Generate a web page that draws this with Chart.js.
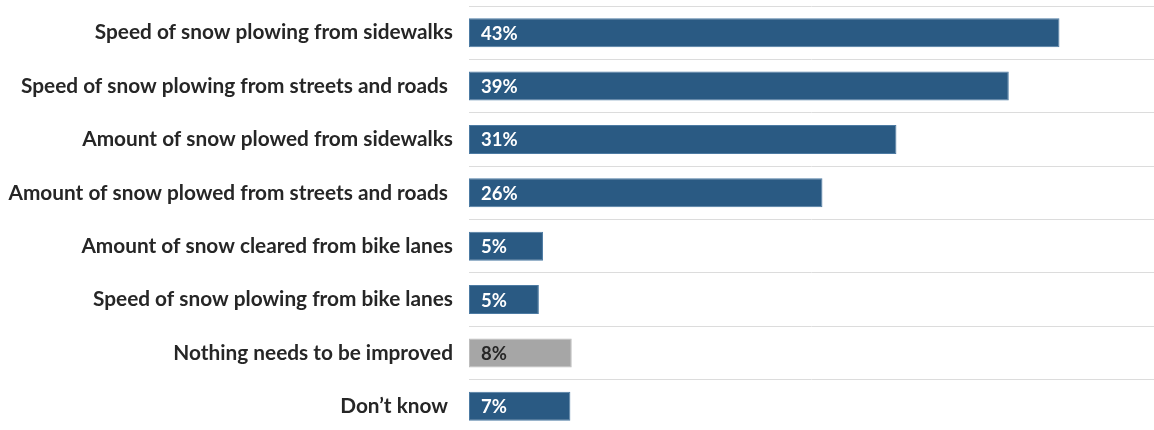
<!DOCTYPE html>
<html>
<head>
<meta charset="utf-8">
<script src="https://cdn.jsdelivr.net/npm/chart.js@4"></script>
<style>
  html, body { margin: 0; padding: 0; background: #fff; overflow: hidden; }
  .chart-container { position: relative; width: 1154px; height: 433px; }
</style>
</head>
<body>
<div class="chart-container">
  <canvas id="chart"></canvas>
</div>
<script>
// Categories (trailing spaces kept, the original labels sit a little left)
const categories = [
  'Speed of snow plowing from sidewalks',
  'Speed of snow plowing from streets and roads ',
  'Amount of snow plowed from sidewalks',
  'Amount of snow plowed from streets and roads ',
  'Amount of snow cleared from bike lanes',
  'Speed of snow plowing from bike lanes',
  'Nothing needs to be improved',
  'Don\u2019t know '
];

// Bar lengths (percent)
const values = [43.1, 39.4, 31.2, 25.8, 5.4, 5.1, 7.5, 7.4];

// Text printed inside the bars
const valueLabels = ['43%', '39%', '31%', '26%', '5%', '5%', '8%', '7%'];

const blue = '#2a5a83';
const gray = '#a6a6a6';
const barColors = values.map((v, i) => i === 6 ? gray : blue);
const barBorders = values.map((v, i) => i === 6 ? '#bdbdbd' : '#4d7ba3');
const labelColors = values.map((v, i) => i === 6 ? '#262626' : '#ffffff');

const FONT = 'Lato, "Open Sans", sans-serif';

// draws the percent text just inside the base of each bar
const barText = {
  id: 'barText',
  afterDatasetsDraw(chart) {
    const ctx = chart.ctx;
    const meta = chart.getDatasetMeta(0);
    ctx.save();
    ctx.font = 'bold 18.5px ' + FONT;
    ctx.textAlign = 'left';
    ctx.textBaseline = 'middle';
    meta.data.forEach((bar, i) => {
      ctx.fillStyle = labelColors[i];
      ctx.fillText(valueLabels[i], bar.base + 12, bar.y + 1);
    });
    ctx.restore();
  }
};

new Chart(document.getElementById('chart').getContext('2d'), {
  type: 'bar',
  data: {
    labels: categories,
    datasets: [{
      data: values,
      backgroundColor: barColors,
      borderColor: barBorders,
      borderWidth: 1,
      borderSkipped: false,
      categoryPercentage: 0.545,
      barPercentage: 1
    }]
  },
  options: {
    indexAxis: 'y',
    responsive: true,
    maintainAspectRatio: false,
    animation: false,
    layout: { padding: { top: 6, right: 0, bottom: 0, left: 0 } },
    plugins: {
      legend: { display: false },
      tooltip: { enabled: false }
    },
    scales: {
      x: {
        display: false,
        min: 0,
        max: 50
      },
      y: {
        afterFit(scale) {
          scale.width = 469;
          scale.paddingTop = 0;
          scale.paddingBottom = 0;
        },
        border: { display: false },
        grid: {
          offset: true,
          drawTicks: false,
          color: '#dcdcdc',
          lineWidth: 1
        },
        ticks: {
          padding: 16,
          color: '#262626',
          font: { family: FONT, size: 20.8, weight: 'bold' }
        }
      }
    }
  },
  plugins: [barText]
});
</script>
</body>
</html>
